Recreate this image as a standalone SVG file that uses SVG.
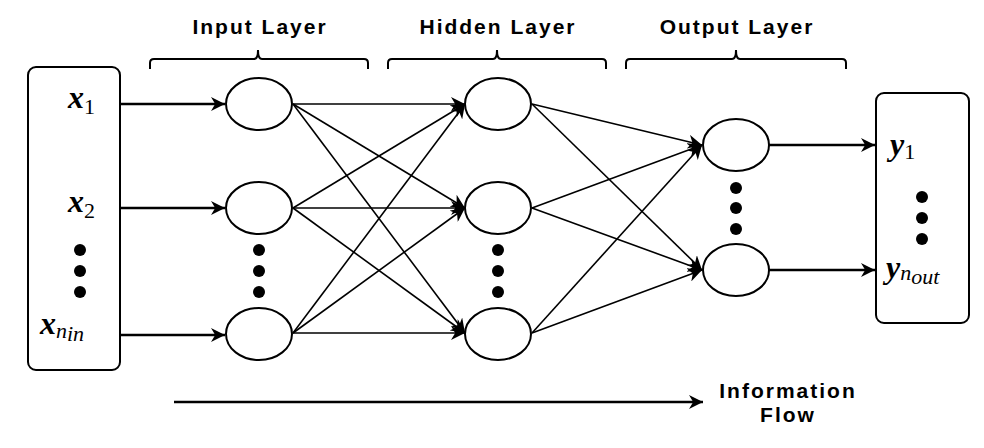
<svg xmlns="http://www.w3.org/2000/svg" width="984" height="448" viewBox="0 0 984 448">
<defs>
<marker id="ah" viewBox="0 0 10 10" refX="10" refY="5" markerWidth="14" markerHeight="14" markerUnits="userSpaceOnUse" orient="auto"><path d="M0,0 L10,5 L0,10 L3,5 z" fill="#000"/></marker>
</defs>
<style>
.n{fill:#fff;stroke:#000;stroke-width:2}
.b{fill:#fff;stroke:#000;stroke-width:2}
.c line{stroke:#000;stroke-width:1.6;marker-end:url(#ah)}
.c .t{stroke-width:2.4}
.h{font-family:"Liberation Sans",Arial,sans-serif;font-weight:bold;font-size:21px;letter-spacing:2px;text-anchor:middle}
.m{font-family:"Liberation Serif","Times New Roman",serif;font-style:italic;font-weight:bold;font-size:32px}
.s{font-family:"Liberation Serif","Times New Roman",serif;font-style:normal;font-weight:normal;font-size:22px}
.si{font-family:"Liberation Serif","Times New Roman",serif;font-style:italic;font-weight:normal;font-size:22px}
.br{fill:none;stroke:#000;stroke-width:2}
</style>
<rect width="984" height="448" fill="#fff"/>
<g id="labels">
<text class="h" x="260" y="34">Input Layer</text>
<text class="h" x="498" y="34">Hidden Layer</text>
<text class="h" x="737" y="34">Output Layer</text>
<path class="br" d="M150,69 v-6 q0,-4 4,-4 h100 q4,0 4,-9 q0,9 4,9 h102 q4,0 4,4 v6"/>
<path class="br" d="M388,69 v-6 q0,-4 4,-4 h101 q4,0 4,-9 q0,9 4,9 h101 q4,0 4,4 v6"/>
<path class="br" d="M626,69 v-6 q0,-4 4,-4 h102 q4,0 4,-9 q0,9 4,9 h102 q4,0 4,4 v6"/>
</g>
<g id="input-box">
<rect class="b" x="28" y="67" width="92" height="303" rx="8"/>
<text class="m" x="68" y="108">x<tspan class="s" dy="6">1</tspan></text>
<text class="m" x="68" y="212">x<tspan class="s" dy="6">2</tspan></text>
<circle cx="80" cy="250" r="6"/><circle cx="80" cy="271" r="6"/><circle cx="80" cy="292" r="6"/>
<text class="m" x="40" y="334">x<tspan class="si" dy="4">n</tspan><tspan class="si" font-size="15" dy="3">in</tspan></text>
</g>
<g id="output-box">
<rect class="b" x="876" y="93" width="93" height="230" rx="8"/>
<text class="m" x="890" y="155">y<tspan class="s" dy="4">1</tspan></text>
<circle cx="922" cy="197" r="6"/><circle cx="922" cy="218" r="6"/><circle cx="922" cy="239" r="6"/>
<text class="m" x="886" y="278">y<tspan class="si" dy="2">n</tspan><tspan class="si" font-size="15" dy="4">out</tspan></text>
</g>
<g id="connectors" class="c">
<line class="t" x1="121" y1="104" x2="225" y2="104"/>
<line class="t" x1="121" y1="208" x2="225" y2="208"/>
<line class="t" x1="121" y1="335" x2="225" y2="335"/>
<line x1="293" y1="104" x2="465" y2="104"/>
<line x1="293" y1="104" x2="465" y2="208"/>
<line x1="293" y1="104" x2="465" y2="333"/>
<line x1="293" y1="208" x2="465" y2="104"/>
<line x1="293" y1="208" x2="465" y2="208"/>
<line x1="293" y1="208" x2="465" y2="333"/>
<line x1="293" y1="333" x2="465" y2="104"/>
<line x1="293" y1="333" x2="465" y2="208"/>
<line x1="293" y1="333" x2="465" y2="333"/>
<line x1="532" y1="104" x2="702" y2="145"/>
<line x1="532" y1="104" x2="702" y2="270"/>
<line x1="532" y1="208" x2="702" y2="145"/>
<line x1="532" y1="208" x2="702" y2="270"/>
<line x1="532" y1="333" x2="702" y2="145"/>
<line x1="532" y1="333" x2="702" y2="270"/>
<line class="t" x1="769" y1="145" x2="875" y2="145"/>
<line class="t" x1="769" y1="270" x2="875" y2="270"/>
<line class="t" x1="174" y1="402" x2="703" y2="402"/>
</g>
<g id="input-layer">
<ellipse class="n" cx="259" cy="104" rx="33" ry="26"/>
<ellipse class="n" cx="259" cy="208" rx="33" ry="26"/>
<ellipse class="n" cx="259" cy="334" rx="33" ry="26"/>
<circle cx="259" cy="250" r="6"/><circle cx="259" cy="271" r="6"/><circle cx="259" cy="292" r="6"/>
</g>
<g id="hidden-layer">
<ellipse class="n" cx="498" cy="104" rx="33" ry="26"/>
<ellipse class="n" cx="498" cy="208" rx="33" ry="26"/>
<ellipse class="n" cx="498" cy="334" rx="33" ry="26"/>
<circle cx="498" cy="250" r="6"/><circle cx="498" cy="271" r="6"/><circle cx="498" cy="292" r="6"/>
</g>
<g id="output-layer">
<ellipse class="n" cx="736" cy="145" rx="33" ry="26"/>
<ellipse class="n" cx="736" cy="270" rx="33" ry="26"/>
<circle cx="736" cy="188" r="6"/><circle cx="736" cy="208" r="6"/><circle cx="736" cy="229" r="6"/>
</g>
<g id="flow-label">
<text class="h" x="788" y="398">Information</text>
<text class="h" x="788" y="422">Flow</text>
</g>
</svg>
